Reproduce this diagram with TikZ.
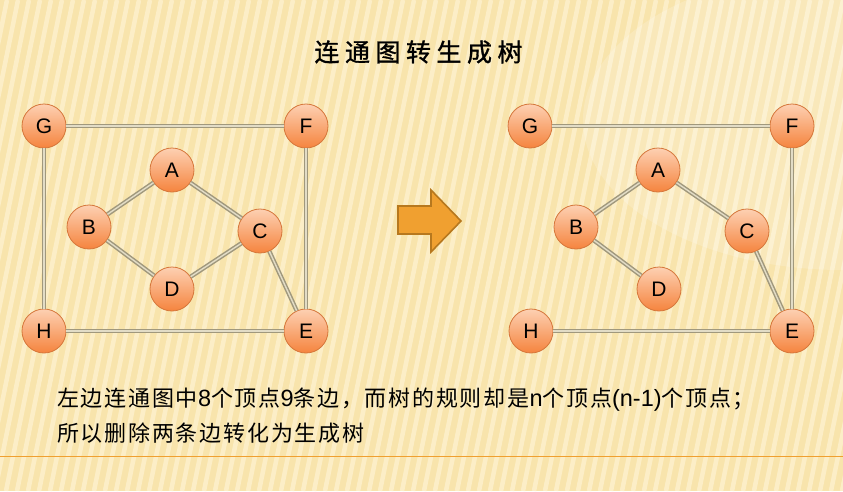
\documentclass[tikz,border=0pt]{standalone}
\usepackage{fontspec}
\setmainfont{Liberation Sans}
\newfontfamily\cjktitle[LetterSpace=22,FakeBold=1.2]{Noto Sans CJK SC}
\newfontfamily\cjkbody[LetterSpace=8]{Noto Sans CJK SC}
\newcommand{\lat}[1]{{\rmfamily\fontsize{23.5}{26}\selectfont #1}}
\definecolor{bgbase}{HTML}{F8E4AC}
\definecolor{stripe}{HTML}{FFF6DA}
\definecolor{edgedark}{HTML}{A0987D}
\definecolor{edgelight}{HTML}{E2DCC6}
\definecolor{nodetop}{HTML}{FDD0B2}
\definecolor{nodebot}{HTML}{F5843E}
\definecolor{nodeline}{HTML}{D5763A}
\definecolor{arrowfill}{HTML}{F0A030}
\definecolor{arrowline}{HTML}{B7781E}
\definecolor{rule}{HTML}{F0A030}
\begin{document}
\begin{tikzpicture}[x=1pt,y=-1pt,
  vert/.style={circle, minimum size=44pt, inner sep=0pt, draw=nodeline, line width=0.8pt,
    top color=nodetop, bottom color=nodebot, font=\fontsize{21}{24}\selectfont},
  link/.style={draw=edgedark, line width=1.5pt, double=edgelight, double distance=1.4pt}]
\useasboundingbox (0,0) rectangle (843,491);
% background
\fill[bgbase] (0,0) rectangle (843,491);
\begin{scope}
\clip (0,0) rectangle (843,491);
\foreach \i in {-10,...,85} {
  \draw[stripe, line width=4.5pt, opacity=0.6] (\i*11-60,491) -- (\i*11+40,0);
}
\fill[white, opacity=0.18] (843,120) ellipse (260 and 150);
\end{scope}
% title
\node (title) at (418.5,52) {\cjktitle\fontsize{25}{30}\selectfont 连通图转生成树};
% left graph
\node[vert] (G) at (44,126) {G};
\node[vert] (F) at (306,126) {F};
\node[vert] (A) at (172,170) {A};
\node[vert] (B) at (89,227) {B};
\node[vert] (C) at (260,231) {C};
\node[vert] (D) at (172,289) {D};
\node[vert] (H) at (44,331) {H};
\node[vert] (E) at (306,331) {E};
\draw[link] (G) -- (F);
\draw[link] (G) -- (H);
\draw[link] (H) -- (E);
\draw[link] (F) -- (E);
\draw[link] (A) -- (B);
\draw[link] (A) -- (C);
\draw[link] (B) -- (D);
\draw[link] (D) -- (C);
\draw[link] (C) -- (E);
% right graph
\node[vert] (G2) at (530,126) {G};
\node[vert] (F2) at (792,126) {F};
\node[vert] (A2) at (658,170) {A};
\node[vert] (B2) at (576,227) {B};
\node[vert] (C2) at (747,231) {C};
\node[vert] (D2) at (659,289) {D};
\node[vert] (H2) at (531,331) {H};
\node[vert] (E2) at (792,331) {E};
\draw[link] (G2) -- (F2);
\draw[link] (F2) -- (E2);
\draw[link] (H2) -- (E2);
\draw[link] (A2) -- (B2);
\draw[link] (A2) -- (C2);
\draw[link] (B2) -- (D2);
\draw[link] (C2) -- (E2);
% arrow
\draw[fill=arrowfill, draw=arrowline, line width=1.6pt, line join=miter]
  (398,206) -- (431,206) -- (431,190) -- (461,221) -- (431,252) -- (431,234) -- (398,234) -- cycle;
% text
\node[anchor=west, inner sep=0pt] (line1) at (57,400)
  {\cjkbody\fontsize{22}{26}\selectfont 左边连通图中\lat{8}个顶点\lat{9}条边，而树的规则却是\lat{n}个顶点\lat{(n-1)}个顶点；};
\node[anchor=west, inner sep=0pt] (line2) at (57,433)
  {\cjkbody\fontsize{22}{26}\selectfont 所以删除两条边转化为生成树};
\draw[rule, line width=1pt] (0,456) -- (843,456);
\end{tikzpicture}
\end{document}
